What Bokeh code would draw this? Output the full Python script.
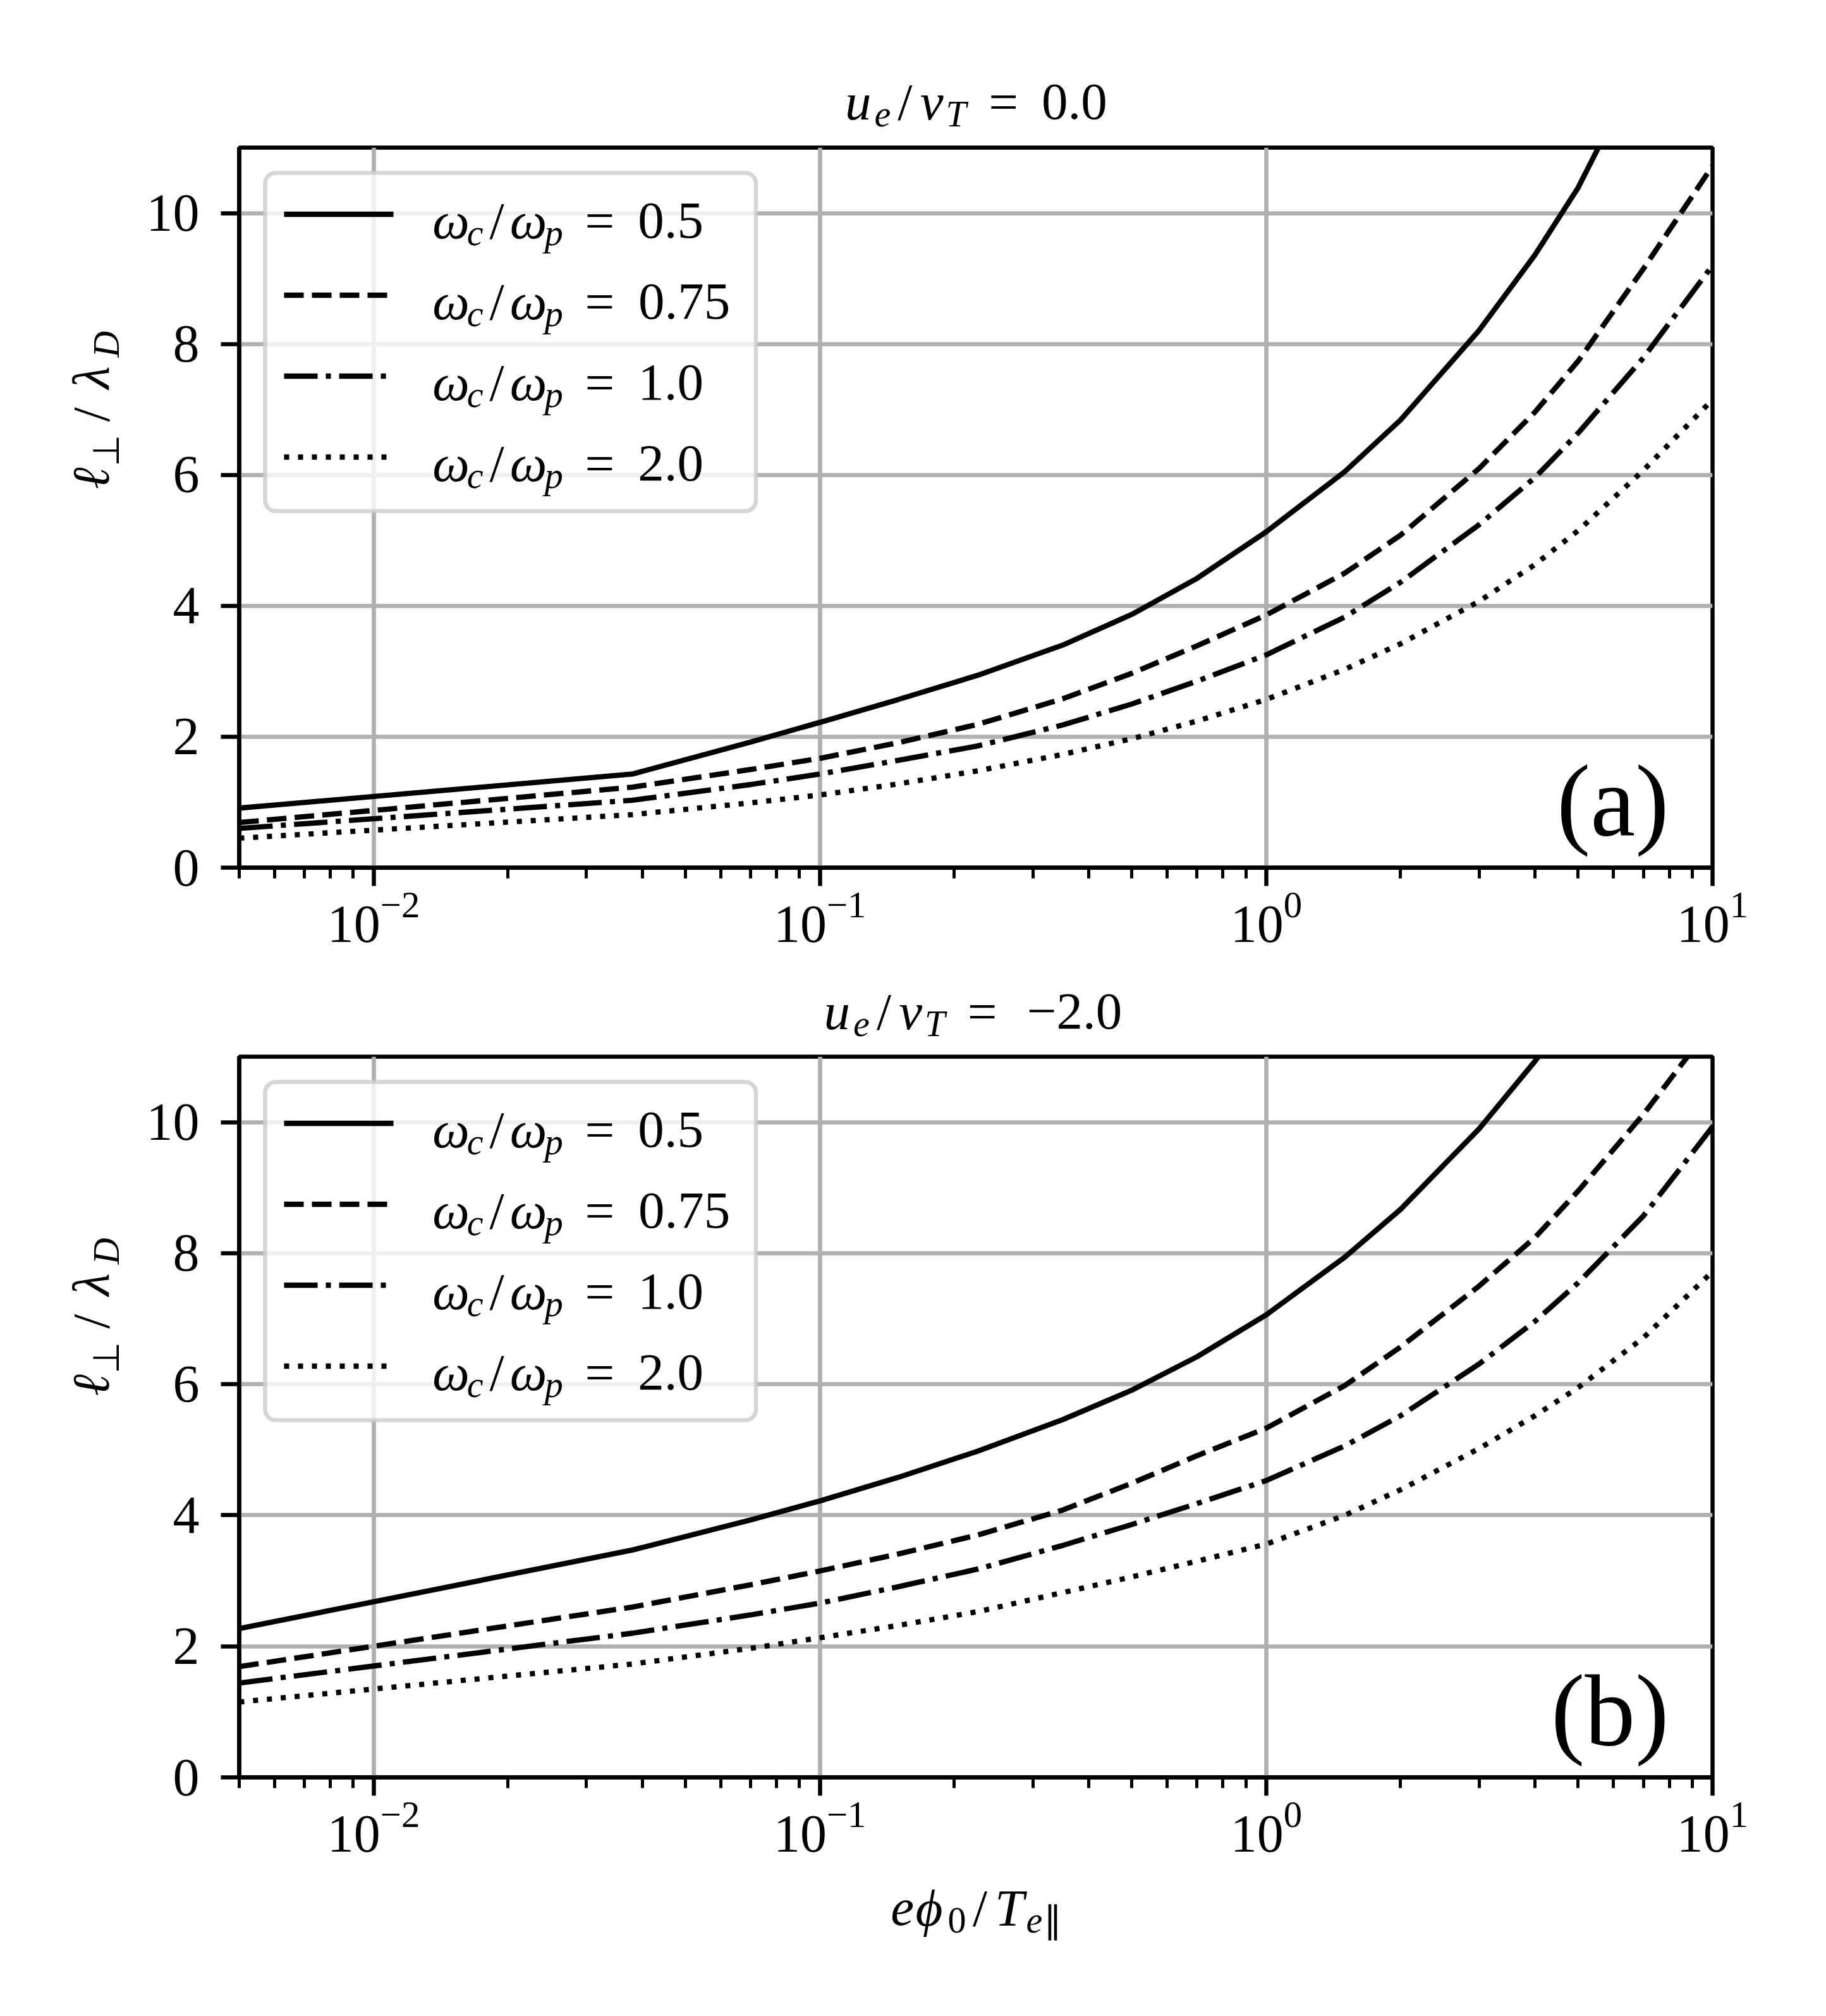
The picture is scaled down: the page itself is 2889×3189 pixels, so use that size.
import math
from bokeh.plotting import figure
from bokeh.layouts import column, row
from bokeh.models import (FixedTicker, Label, BoxAnnotation, Arrow, Range1d)
from bokeh.embed import file_html
from bokeh.resources import INLINE

# ---------------- data ----------------
X = [0.005, 0.038, 0.07, 0.1, 0.15, 0.226, 0.35, 0.5, 0.7, 1.0, 1.5, 2.0, 3.0, 4.0, 5.0, 7.0, 10.0]

# panel (a): u_e/v_T = 0.0
A_05 = [0.91, 1.43, 1.92, 2.22, 2.57, 2.94, 3.40, 3.87, 4.42, 5.13, 6.05, 6.84, 8.21, 9.36, 10.39, 12.36, 14.76]
A_075 = [0.69, 1.23, 1.50, 1.67, 1.91, 2.19, 2.58, 2.97, 3.39, 3.86, 4.50, 5.08, 6.10, 6.96, 7.74, 9.15, 10.72]
A_10 = [0.60, 1.03, 1.27, 1.43, 1.64, 1.86, 2.18, 2.50, 2.85, 3.25, 3.83, 4.36, 5.24, 5.96, 6.64, 7.79, 9.20]
A_20 = [0.45, 0.81, 0.99, 1.11, 1.28, 1.48, 1.73, 1.97, 2.24, 2.57, 3.03, 3.42, 4.07, 4.63, 5.15, 6.07, 7.15]

# panel (b): u_e/v_T = -2.0
B_05 = [2.27, 3.47, 3.93, 4.22, 4.58, 4.98, 5.46, 5.91, 6.42, 7.06, 7.94, 8.67, 9.90, 10.93, 11.83, 13.44, 15.38]
B_075 = [1.69, 2.60, 2.94, 3.15, 3.41, 3.70, 4.08, 4.49, 4.91, 5.33, 5.98, 6.57, 7.50, 8.24, 8.95, 10.12, 11.50]
B_10 = [1.44, 2.20, 2.48, 2.66, 2.91, 3.18, 3.54, 3.86, 4.18, 4.53, 5.06, 5.52, 6.31, 6.96, 7.55, 8.57, 9.93]
B_20 = [1.15, 1.73, 1.97, 2.13, 2.32, 2.53, 2.82, 3.06, 3.30, 3.56, 4.00, 4.39, 5.02, 5.52, 5.95, 6.71, 7.72]

RATIOS = ["0.5", "0.75", "1.0", "2.0"]
TITLES = ["0.0", "\u22122.0"]
PANEL_TAGS = ["(a)", "(b)"]
X_MAJOR = [0.01, 0.1, 1.0, 10.0]
X_MINOR = [m * 10.0 ** d for d in range(-3, 1) for m in range(2, 10) if 0.005 <= m * 10.0 ** d <= 10]
Y_TICKS = [0, 2, 4, 6, 8, 10]

# ---------------- styling ----------------
FONT = "Liberation Serif"
FPX = 83          # rendered font size
EM = 86.0         # layout em (Computer-Modern like advance widths)
SUB = 0.7
COMP = 0.27       # baseline compensation, horizontal text (fraction of font size)
VCOMP = 0.46      # baseline compensation, rotated text
LW = 8.33
DASHES = ["solid", "31 13", "53 13 8 13", "8 14"]

W = 2860
YLW = 222                 # width of the y-label strip
FW = 2331
FL = 378 - YLW
FR = W - YLW - FL - FW

# advance widths (Computer Modern-like, em) used for placing pieces
CMW = {'ω': 0.622, 'c': 0.433, 'p': 0.503, 'u': 0.572, 'e': 0.466, 'v': 0.485, 'T': 0.584,
       'D': 0.828, 'λ': 0.583, 'ϕ': 0.596, 'ℓ': 0.417, '/': 0.5, '=': 0.778, '\u2212': 0.778,
       '.': 0.278, '⊥': 0.778, '∥': 0.5}
# approximate widths of the rendered font (em)
LBW = {'ω': 0.667, 'c': 0.444, 'p': 0.5, 'u': 0.5, 'e': 0.444, 'v': 0.444, 'T': 0.556,
       'D': 0.722, 'λ': 0.5, 'ϕ': 0.6, 'ℓ': 0.42, '/': 0.278, '=': 0.564, '\u2212': 0.564,
       '.': 0.25, '⊥': 0.8, '∥': 0.5}
for d in "0123456789":
    CMW[d] = 0.5
    LBW[d] = 0.5


def adv(t):
    return sum(CMW.get(ch, 0.5) for ch in t)


def lbw(t):
    return sum(LBW.get(ch, 0.5) for ch in t)


def rich(p, parts, x, y, anchor="left", vertical=False):
    total = 0.0
    for part in parts:
        if isinstance(part, (int, float)):
            total += part * EM
        else:
            t, it, sb = part
            total += adv(t) * EM * (SUB if sb else 1.0)
    pos = -total / 2.0 if anchor == "center" else 0.0
    for part in parts:
        if isinstance(part, (int, float)):
            pos += part * EM
            continue
        t, it, sb = part
        sc = SUB if sb else 1.0
        size = FPX * sc
        shift = 0.15 * EM if sb else 0.0
        off = (adv(t) * EM * sc - lbw(t) * size) / 2.0
        kw = dict(x_units="screen", y_units="screen", text=t, text_font=FONT,
                  text_font_style="italic" if it else "normal",
                  text_font_size="%.1fpx" % size, text_color="black",
                  text_align="left", text_baseline="alphabetic")
        if vertical:
            lab = Label(x=x + shift - VCOMP * size, y=y + pos + off, angle=math.pi / 2, **kw)
        else:
            lab = Label(x=x + pos + off, y=y - shift + COMP * size, **kw)
        p.add_layout(lab)
        pos += adv(t) * EM * sc


def text_fig(w, h):
    f = figure(width=w, height=h, x_range=Range1d(0, 1), y_range=Range1d(0, 1),
               x_axis_type=None, y_axis_type=None, output_backend="svg",
               toolbar_location=None, title=None, min_border=0)
    f.outline_line_color = None
    f.background_fill_color = "white"
    f.border_fill_color = "white"
    return f


def make_panel(idx, series, top, fh, bottom):
    p = figure(frame_width=FW, frame_height=fh, x_axis_type="log",
               x_range=Range1d(0.005, 10), y_range=Range1d(0, 11),
               output_backend="svg", toolbar_location=None, title=None,
               min_border_left=FL, min_border_right=FR,
               min_border_top=top, min_border_bottom=bottom)
    p.background_fill_color = "white"
    p.border_fill_color = "white"
    p.outline_line_color = "black"
    p.outline_line_width = 6.5

    for ax in (p.xaxis, p.yaxis):
        ax.axis_line_width = 6.5
        ax.major_tick_line_width = 6.5
        ax.minor_tick_line_width = 5
        ax.major_tick_out = 29
        ax.major_tick_in = 0
        ax.minor_tick_out = 17
        ax.minor_tick_in = 0
        ax.major_label_text_font = FONT
        ax.major_label_text_font_size = "84px"
        ax.major_label_text_color = "black"
    p.xaxis.ticker = FixedTicker(ticks=X_MAJOR, minor_ticks=X_MINOR)
    p.yaxis.ticker = FixedTicker(ticks=Y_TICKS)
    p.yaxis.minor_tick_line_color = None
    p.xaxis.major_label_standoff = 10
    p.yaxis.major_label_standoff = 34

    for g in (p.xgrid, p.ygrid):
        g.grid_line_color = "#b0b0b0"
        g.grid_line_width = 6.7

    for ys, dash in zip(series, DASHES):
        p.line(X, ys, line_color="black", line_width=LW, line_dash=dash)

    # legend box
    box_kw = dict(left=41, right=817.5, top=fh - 40, bottom=fh - 575,
                  left_units="screen", right_units="screen",
                  top_units="screen", bottom_units="screen",
                  fill_color="white", fill_alpha=0.8,
                  line_color="#cccccc", line_alpha=0.8, line_width=6.7)
    if "border_radius" in BoxAnnotation.properties():
        box_kw["border_radius"] = 17
    p.add_layout(BoxAnnotation(**box_kw))

    for k, (ratio, dash) in enumerate(zip(RATIOS, DASHES)):
        ry = fh - 105.5 - 128 * k
        p.add_layout(Arrow(x_start=71, y_start=ry, x_end=244, y_end=ry,
                           start_units="screen", end_units="screen",
                           start=None, end=None, line_color="black",
                           line_width=LW, line_dash=dash))
        rich(p, [("ω", True, False), ("c", True, True), ("/", False, False),
                 ("ω", True, False), ("p", True, True), 0.278,
                 ("=", False, False), 0.278, (ratio, False, False)],
             306.6, ry - 32.5)

    # panel tag
    p.add_layout(Label(x=2262, y=62 + COMP * 160, x_units="screen", y_units="screen",
                       text=PANEL_TAGS[idx], text_font=FONT, text_font_size="160px",
                       text_align="right", text_baseline="alphabetic",
                       text_color="black"))
    return p


def title_parts(val):
    return [("u", True, False), ("e", True, True), ("/", False, False),
            ("v", True, False), ("T", True, True), 0.278, ("=", False, False),
            0.278, (val, False, False)]


YLAB = [("ℓ", True, False), ("⊥", False, True), 0.17, ("/", False, False),
        0.17, ("λ", True, False), ("D", True, True)]
XLAB = [("e", True, False), ("ϕ", True, False), ("0", False, True),
        ("/", False, False), ("T", True, False), ("e", True, True), ("∥", False, True)]

FCX = 378 + FW / 2.0   # frame centre (page x)

# title strip (a)
t1 = text_fig(W, 223)
rich(t1, title_parts(TITLES[0]), FCX, 40, anchor="center")

# panel (a)
p1 = make_panel(0, [A_05, A_075, A_10, A_20], 10, 1139, 156)
y1 = text_fig(YLW, 10 + 1139 + 156)
rich(y1, YLAB, 182, 156 + 1139 / 2.0, anchor="center", vertical=True)

# title strip (b)
t2 = text_fig(W, 132)
rich(t2, title_parts(TITLES[1]), FCX, 38.5, anchor="center")

# panel (b)
p2 = make_panel(1, [B_05, B_075, B_10, B_20], 11, 1140, 160)
y2 = text_fig(YLW, 11 + 1140 + 160)
rich(y2, YLAB, 182, 160 + 1140 / 2.0, anchor="center", vertical=True)

# x label strip
xl = text_fig(W, 202)
rich(xl, XLAB, FCX, 133, anchor="center")

layout = column(t1, row(y1, p1), t2, row(y2, p2), xl)
open("out.html", "w").write(file_html(layout, INLINE))
